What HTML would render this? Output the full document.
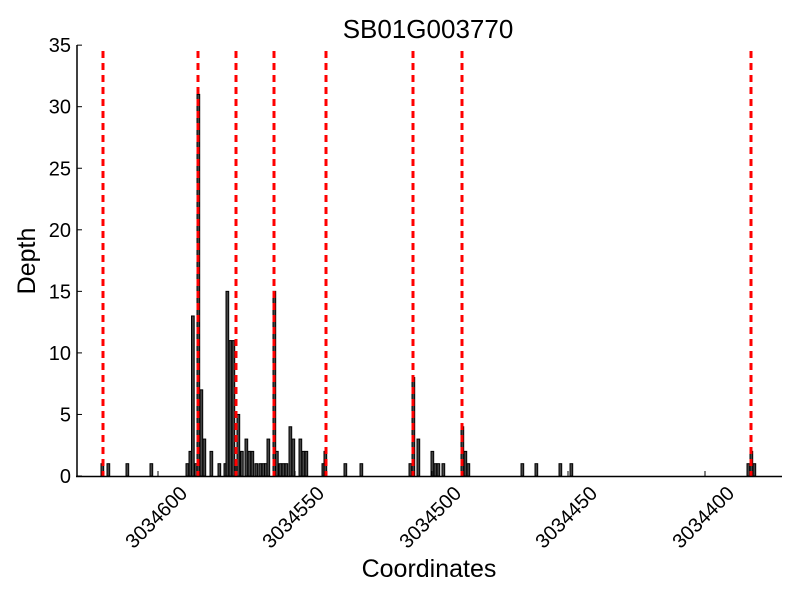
<!DOCTYPE html>
<html><head><meta charset="utf-8"><style>body{margin:0;background:#fff}svg{display:block}text{font-family:"Liberation Sans",sans-serif;fill:#000}</style></head>
<body>
<svg width="800" height="600" xmlns="http://www.w3.org/2000/svg">
<text x="428" y="38" font-size="26" text-anchor="middle">SB01G003770</text>
<g id="bars" fill="#444" stroke="#000" stroke-width="1"></g>
<g stroke="#f00" stroke-width="3" stroke-dasharray="7,5">
<line x1="103" y1="51" x2="103" y2="476"/><line x1="198" y1="51" x2="198" y2="476"/><line x1="236" y1="51" x2="236" y2="476"/><line x1="274" y1="51" x2="274" y2="476"/><line x1="326" y1="51" x2="326" y2="476"/><line x1="413" y1="51" x2="413" y2="476"/><line x1="462" y1="51" x2="462" y2="476"/><line x1="751" y1="51" x2="751" y2="476"/>
</g>
<g stroke="#000" stroke-width="1.5" fill="none"><line x1="77" y1="45" x2="77" y2="476.5"/><line x1="76" y1="476.5" x2="782" y2="476.5"/></g>
<g id="yt" stroke="#000" stroke-width="1"></g>
<g id="ytl" font-size="20" text-anchor="end"></g>
<g id="xt" stroke="#000" stroke-width="1"></g>
<g id="xtl" font-size="20" text-anchor="middle"></g>
<text x="429" y="577" font-size="25" text-anchor="middle">Coordinates</text>
<text transform="translate(35,261) rotate(-90)" font-size="25" text-anchor="middle">Depth</text>
</svg>
<script>
const NS="http://www.w3.org/2000/svg";
function el(p,t,a,txt){const e=document.createElementNS(NS,t);for(const k in a)e.setAttribute(k,a[k]);if(txt)e.textContent=txt;document.getElementById(p).appendChild(e);}
const u=12.31,b=476;
const bars=[[101,1],[107,1],[126,1],[150,1],[186,1],[189,2],[191.5,13],[194.5,1],[197,31],[200,7],[203,3],[210,2],[218,1],[224,1],[226,15],[229,11],[232,11],[235,1],[237,5],[240.5,2],[245,3],[248,2],[251,2],[255,1],[259,1],[262,1],[264.5,1],[267,3],[273,15],[275.5,2],[279,1],[282,1],[285,1],[289,4],[292,3],[299,3],[302,2],[305,2],[322,1],[324,2],[344,1],[360,1],[409,1],[412,8],[417,3],[431,2],[434,1],[437,1],[442,1],[461,4],[464,2],[467,1],[521,1],[535,1],[559,1],[570,1],[747,1],[750,2],[753,1]];
for(const [x,h] of bars)el("bars","rect",{x:x,y:b-h*u,width:2.7,height:h*u});
for(let i=0;i<=7;i++){const y=b-i*5*u;el("yt","line",{x1:77,y1:y,x2:82,y2:y});el("ytl","text",{x:71,y:y+7},String(i*5));}
const tk=[[158,"3034600"],[295,"3034550"],[432,"3034500"],[568,"3034450"],[705,"3034400"]];
for(const [x,l] of tk){el("xt","line",{x1:x,y1:476,x2:x,y2:471});el("xtl","text",{transform:`translate(${x+3},${522}) rotate(-45)`},l);}
</script>
</body></html>
